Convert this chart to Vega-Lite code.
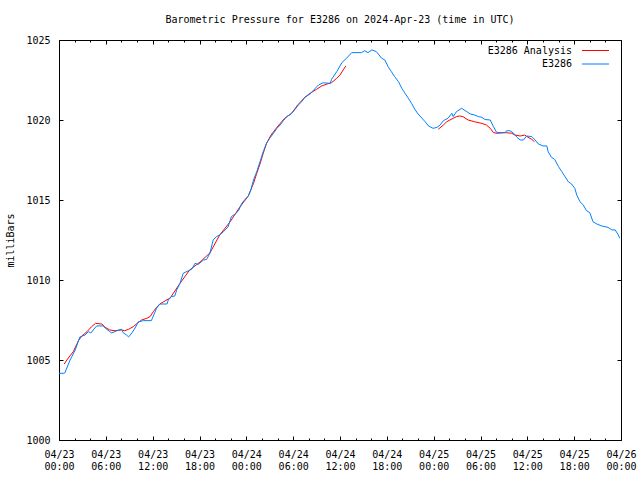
{
  "$schema": "https://vega.github.io/schema/vega-lite/v6.json",
  "width": 562,
  "height": 400,
  "autosize": {"type": "none"},
  "padding": {"left": 59, "top": 40, "right": 19, "bottom": 40},
  "background": "white",
  "title": {
    "text": "Barometric Pressure for E3286 on 2024-Apr-23 (time in UTC)",
    "anchor": "middle",
    "font": "DejaVu Sans Mono",
    "fontSize": 10,
    "fontWeight": "normal",
    "color": "black",
    "offset": 10
  },
  "datasets": {
    "ana": [
      {"t": "2024-04-23T00:40Z", "p": 1004.75, "seg": 1, "series": "E3286 Analysis"},
      {"t": "2024-04-23T01:10Z", "p": 1005.11, "seg": 1, "series": "E3286 Analysis"},
      {"t": "2024-04-23T01:50Z", "p": 1005.52, "seg": 1, "series": "E3286 Analysis"},
      {"t": "2024-04-23T02:30Z", "p": 1006.21, "seg": 1, "series": "E3286 Analysis"},
      {"t": "2024-04-23T02:55Z", "p": 1006.50, "seg": 1, "series": "E3286 Analysis"},
      {"t": "2024-04-23T03:35Z", "p": 1006.77, "seg": 1, "series": "E3286 Analysis"},
      {"t": "2024-04-23T04:10Z", "p": 1007.08, "seg": 1, "series": "E3286 Analysis"},
      {"t": "2024-04-23T04:40Z", "p": 1007.29, "seg": 1, "series": "E3286 Analysis"},
      {"t": "2024-04-23T05:30Z", "p": 1007.25, "seg": 1, "series": "E3286 Analysis"},
      {"t": "2024-04-23T05:55Z", "p": 1007.04, "seg": 1, "series": "E3286 Analysis"},
      {"t": "2024-04-23T06:30Z", "p": 1006.88, "seg": 1, "series": "E3286 Analysis"},
      {"t": "2024-04-23T07:10Z", "p": 1006.83, "seg": 1, "series": "E3286 Analysis"},
      {"t": "2024-04-23T08:00Z", "p": 1006.88, "seg": 1, "series": "E3286 Analysis"},
      {"t": "2024-04-23T08:25Z", "p": 1006.83, "seg": 1, "series": "E3286 Analysis"},
      {"t": "2024-04-23T08:55Z", "p": 1006.92, "seg": 1, "series": "E3286 Analysis"},
      {"t": "2024-04-23T09:30Z", "p": 1007.08, "seg": 1, "series": "E3286 Analysis"},
      {"t": "2024-04-23T09:55Z", "p": 1007.25, "seg": 1, "series": "E3286 Analysis"},
      {"t": "2024-04-23T10:35Z", "p": 1007.50, "seg": 1, "series": "E3286 Analysis"},
      {"t": "2024-04-23T11:15Z", "p": 1007.61, "seg": 1, "series": "E3286 Analysis"},
      {"t": "2024-04-23T11:40Z", "p": 1007.71, "seg": 1, "series": "E3286 Analysis"},
      {"t": "2024-04-23T12:05Z", "p": 1008.02, "seg": 1, "series": "E3286 Analysis"},
      {"t": "2024-04-23T12:30Z", "p": 1008.29, "seg": 1, "series": "E3286 Analysis"},
      {"t": "2024-04-23T12:55Z", "p": 1008.50, "seg": 1, "series": "E3286 Analysis"},
      {"t": "2024-04-23T14:15Z", "p": 1008.88, "seg": 1, "series": "E3286 Analysis"},
      {"t": "2024-04-23T15:30Z", "p": 1009.79, "seg": 1, "series": "E3286 Analysis"},
      {"t": "2024-04-23T16:45Z", "p": 1010.63, "seg": 1, "series": "E3286 Analysis"},
      {"t": "2024-04-23T18:05Z", "p": 1011.13, "seg": 1, "series": "E3286 Analysis"},
      {"t": "2024-04-23T19:20Z", "p": 1011.69, "seg": 1, "series": "E3286 Analysis"},
      {"t": "2024-04-23T20:35Z", "p": 1012.81, "seg": 1, "series": "E3286 Analysis"},
      {"t": "2024-04-23T21:55Z", "p": 1013.63, "seg": 1, "series": "E3286 Analysis"},
      {"t": "2024-04-23T23:10Z", "p": 1014.56, "seg": 1, "series": "E3286 Analysis"},
      {"t": "2024-04-24T00:15Z", "p": 1015.25, "seg": 1, "series": "E3286 Analysis"},
      {"t": "2024-04-24T00:55Z", "p": 1016.04, "seg": 1, "series": "E3286 Analysis"},
      {"t": "2024-04-24T01:20Z", "p": 1016.67, "seg": 1, "series": "E3286 Analysis"},
      {"t": "2024-04-24T01:45Z", "p": 1017.25, "seg": 1, "series": "E3286 Analysis"},
      {"t": "2024-04-24T02:10Z", "p": 1017.92, "seg": 1, "series": "E3286 Analysis"},
      {"t": "2024-04-24T02:35Z", "p": 1018.54, "seg": 1, "series": "E3286 Analysis"},
      {"t": "2024-04-24T03:10Z", "p": 1019.06, "seg": 1, "series": "E3286 Analysis"},
      {"t": "2024-04-24T03:40Z", "p": 1019.38, "seg": 1, "series": "E3286 Analysis"},
      {"t": "2024-04-24T04:10Z", "p": 1019.69, "seg": 1, "series": "E3286 Analysis"},
      {"t": "2024-04-24T04:55Z", "p": 1020.11, "seg": 1, "series": "E3286 Analysis"},
      {"t": "2024-04-24T05:20Z", "p": 1020.25, "seg": 1, "series": "E3286 Analysis"},
      {"t": "2024-04-24T05:50Z", "p": 1020.44, "seg": 1, "series": "E3286 Analysis"},
      {"t": "2024-04-24T06:35Z", "p": 1020.94, "seg": 1, "series": "E3286 Analysis"},
      {"t": "2024-04-24T07:30Z", "p": 1021.42, "seg": 1, "series": "E3286 Analysis"},
      {"t": "2024-04-24T08:10Z", "p": 1021.67, "seg": 1, "series": "E3286 Analysis"},
      {"t": "2024-04-24T09:00Z", "p": 1021.92, "seg": 1, "series": "E3286 Analysis"},
      {"t": "2024-04-24T09:40Z", "p": 1022.13, "seg": 1, "series": "E3286 Analysis"},
      {"t": "2024-04-24T10:20Z", "p": 1022.25, "seg": 1, "series": "E3286 Analysis"},
      {"t": "2024-04-24T10:55Z", "p": 1022.33, "seg": 1, "series": "E3286 Analysis"},
      {"t": "2024-04-24T11:35Z", "p": 1022.61, "seg": 1, "series": "E3286 Analysis"},
      {"t": "2024-04-24T12:00Z", "p": 1022.81, "seg": 1, "series": "E3286 Analysis"},
      {"t": "2024-04-24T12:25Z", "p": 1023.13, "seg": 1, "series": "E3286 Analysis"},
      {"t": "2024-04-24T12:45Z", "p": 1023.38, "seg": 1, "series": "E3286 Analysis"},
      {"t": "2024-04-25T00:35Z", "p": 1019.42, "seg": 2, "series": "E3286 Analysis"},
      {"t": "2024-04-25T01:15Z", "p": 1019.69, "seg": 2, "series": "E3286 Analysis"},
      {"t": "2024-04-25T01:40Z", "p": 1019.89, "seg": 2, "series": "E3286 Analysis"},
      {"t": "2024-04-25T02:05Z", "p": 1020.00, "seg": 2, "series": "E3286 Analysis"},
      {"t": "2024-04-25T02:55Z", "p": 1020.21, "seg": 2, "series": "E3286 Analysis"},
      {"t": "2024-04-25T03:20Z", "p": 1020.25, "seg": 2, "series": "E3286 Analysis"},
      {"t": "2024-04-25T03:45Z", "p": 1020.21, "seg": 2, "series": "E3286 Analysis"},
      {"t": "2024-04-25T04:25Z", "p": 1020.00, "seg": 2, "series": "E3286 Analysis"},
      {"t": "2024-04-25T05:15Z", "p": 1019.89, "seg": 2, "series": "E3286 Analysis"},
      {"t": "2024-04-25T06:10Z", "p": 1019.79, "seg": 2, "series": "E3286 Analysis"},
      {"t": "2024-04-25T06:45Z", "p": 1019.69, "seg": 2, "series": "E3286 Analysis"},
      {"t": "2024-04-25T07:15Z", "p": 1019.48, "seg": 2, "series": "E3286 Analysis"},
      {"t": "2024-04-25T07:40Z", "p": 1019.21, "seg": 2, "series": "E3286 Analysis"},
      {"t": "2024-04-25T08:05Z", "p": 1019.17, "seg": 2, "series": "E3286 Analysis"},
      {"t": "2024-04-25T09:10Z", "p": 1019.21, "seg": 2, "series": "E3286 Analysis"},
      {"t": "2024-04-25T10:00Z", "p": 1019.17, "seg": 2, "series": "E3286 Analysis"},
      {"t": "2024-04-25T10:25Z", "p": 1019.06, "seg": 2, "series": "E3286 Analysis"},
      {"t": "2024-04-25T11:05Z", "p": 1019.00, "seg": 2, "series": "E3286 Analysis"},
      {"t": "2024-04-25T11:40Z", "p": 1019.06, "seg": 2, "series": "E3286 Analysis"},
      {"t": "2024-04-25T12:05Z", "p": 1018.92, "seg": 2, "series": "E3286 Analysis"},
      {"t": "2024-04-25T12:35Z", "p": 1018.79, "seg": 2, "series": "E3286 Analysis"},
      {"t": "2024-04-25T12:55Z", "p": 1018.64, "seg": 2, "series": "E3286 Analysis"}
    ],
    "obs": [
      {"t": "2024-04-23T00:00Z", "p": 1004.17, "series": "E3286"},
      {"t": "2024-04-23T00:40Z", "p": 1004.17, "series": "E3286"},
      {"t": "2024-04-23T00:45Z", "p": 1004.19, "series": "E3286"},
      {"t": "2024-04-23T01:25Z", "p": 1005.00, "series": "E3286"},
      {"t": "2024-04-23T02:05Z", "p": 1005.63, "series": "E3286"},
      {"t": "2024-04-23T02:40Z", "p": 1006.44, "series": "E3286"},
      {"t": "2024-04-23T03:20Z", "p": 1006.56, "series": "E3286"},
      {"t": "2024-04-23T03:45Z", "p": 1006.77, "series": "E3286"},
      {"t": "2024-04-23T04:05Z", "p": 1006.69, "series": "E3286"},
      {"t": "2024-04-23T04:35Z", "p": 1007.00, "series": "E3286"},
      {"t": "2024-04-23T04:50Z", "p": 1007.13, "series": "E3286"},
      {"t": "2024-04-23T05:40Z", "p": 1007.13, "series": "E3286"},
      {"t": "2024-04-23T05:55Z", "p": 1007.00, "series": "E3286"},
      {"t": "2024-04-23T06:30Z", "p": 1006.77, "series": "E3286"},
      {"t": "2024-04-23T06:45Z", "p": 1006.69, "series": "E3286"},
      {"t": "2024-04-23T07:25Z", "p": 1006.83, "series": "E3286"},
      {"t": "2024-04-23T08:00Z", "p": 1006.92, "series": "E3286"},
      {"t": "2024-04-23T08:15Z", "p": 1006.69, "series": "E3286"},
      {"t": "2024-04-23T08:40Z", "p": 1006.56, "series": "E3286"},
      {"t": "2024-04-23T08:55Z", "p": 1006.44, "series": "E3286"},
      {"t": "2024-04-23T09:20Z", "p": 1006.69, "series": "E3286"},
      {"t": "2024-04-23T09:45Z", "p": 1007.00, "series": "E3286"},
      {"t": "2024-04-23T10:10Z", "p": 1007.39, "series": "E3286"},
      {"t": "2024-04-23T10:50Z", "p": 1007.46, "series": "E3286"},
      {"t": "2024-04-23T11:50Z", "p": 1007.46, "series": "E3286"},
      {"t": "2024-04-23T12:05Z", "p": 1007.75, "series": "E3286"},
      {"t": "2024-04-23T12:30Z", "p": 1008.23, "series": "E3286"},
      {"t": "2024-04-23T12:55Z", "p": 1008.50, "series": "E3286"},
      {"t": "2024-04-23T13:50Z", "p": 1008.50, "series": "E3286"},
      {"t": "2024-04-23T14:00Z", "p": 1008.75, "series": "E3286"},
      {"t": "2024-04-23T14:25Z", "p": 1008.96, "series": "E3286"},
      {"t": "2024-04-23T14:50Z", "p": 1009.00, "series": "E3286"},
      {"t": "2024-04-23T15:05Z", "p": 1009.38, "series": "E3286"},
      {"t": "2024-04-23T15:30Z", "p": 1009.79, "series": "E3286"},
      {"t": "2024-04-23T15:55Z", "p": 1010.42, "series": "E3286"},
      {"t": "2024-04-23T16:35Z", "p": 1010.58, "series": "E3286"},
      {"t": "2024-04-23T17:00Z", "p": 1010.67, "series": "E3286"},
      {"t": "2024-04-23T17:25Z", "p": 1011.04, "series": "E3286"},
      {"t": "2024-04-23T17:50Z", "p": 1010.97, "series": "E3286"},
      {"t": "2024-04-23T18:30Z", "p": 1011.25, "series": "E3286"},
      {"t": "2024-04-23T18:55Z", "p": 1011.29, "series": "E3286"},
      {"t": "2024-04-23T19:20Z", "p": 1011.67, "series": "E3286"},
      {"t": "2024-04-23T19:45Z", "p": 1012.50, "series": "E3286"},
      {"t": "2024-04-23T20:10Z", "p": 1012.71, "series": "E3286"},
      {"t": "2024-04-23T20:35Z", "p": 1012.81, "series": "E3286"},
      {"t": "2024-04-23T21:05Z", "p": 1013.02, "series": "E3286"},
      {"t": "2024-04-23T21:40Z", "p": 1013.33, "series": "E3286"},
      {"t": "2024-04-23T22:05Z", "p": 1013.96, "series": "E3286"},
      {"t": "2024-04-23T22:35Z", "p": 1014.13, "series": "E3286"},
      {"t": "2024-04-23T23:00Z", "p": 1014.33, "series": "E3286"},
      {"t": "2024-04-23T23:25Z", "p": 1014.79, "series": "E3286"},
      {"t": "2024-04-23T23:50Z", "p": 1015.04, "series": "E3286"},
      {"t": "2024-04-24T00:15Z", "p": 1015.25, "series": "E3286"},
      {"t": "2024-04-24T00:35Z", "p": 1015.63, "series": "E3286"},
      {"t": "2024-04-24T00:55Z", "p": 1016.25, "series": "E3286"},
      {"t": "2024-04-24T01:20Z", "p": 1016.77, "series": "E3286"},
      {"t": "2024-04-24T01:45Z", "p": 1017.39, "series": "E3286"},
      {"t": "2024-04-24T02:10Z", "p": 1018.02, "series": "E3286"},
      {"t": "2024-04-24T02:35Z", "p": 1018.54, "series": "E3286"},
      {"t": "2024-04-24T03:00Z", "p": 1018.86, "series": "E3286"},
      {"t": "2024-04-24T03:25Z", "p": 1019.13, "series": "E3286"},
      {"t": "2024-04-24T03:55Z", "p": 1019.48, "series": "E3286"},
      {"t": "2024-04-24T04:20Z", "p": 1019.69, "series": "E3286"},
      {"t": "2024-04-24T04:45Z", "p": 1019.96, "series": "E3286"},
      {"t": "2024-04-24T05:10Z", "p": 1020.21, "series": "E3286"},
      {"t": "2024-04-24T05:50Z", "p": 1020.42, "series": "E3286"},
      {"t": "2024-04-24T06:15Z", "p": 1020.67, "series": "E3286"},
      {"t": "2024-04-24T06:40Z", "p": 1020.94, "series": "E3286"},
      {"t": "2024-04-24T07:05Z", "p": 1021.14, "series": "E3286"},
      {"t": "2024-04-24T07:30Z", "p": 1021.42, "series": "E3286"},
      {"t": "2024-04-24T08:10Z", "p": 1021.63, "series": "E3286"},
      {"t": "2024-04-24T08:50Z", "p": 1021.98, "series": "E3286"},
      {"t": "2024-04-24T09:15Z", "p": 1022.19, "series": "E3286"},
      {"t": "2024-04-24T09:50Z", "p": 1022.33, "series": "E3286"},
      {"t": "2024-04-24T10:45Z", "p": 1022.29, "series": "E3286"},
      {"t": "2024-04-24T10:55Z", "p": 1022.54, "series": "E3286"},
      {"t": "2024-04-24T11:35Z", "p": 1023.02, "series": "E3286"},
      {"t": "2024-04-24T12:15Z", "p": 1023.59, "series": "E3286"},
      {"t": "2024-04-24T12:50Z", "p": 1023.86, "series": "E3286"},
      {"t": "2024-04-24T13:30Z", "p": 1024.21, "series": "E3286"},
      {"t": "2024-04-24T14:45Z", "p": 1024.21, "series": "E3286"},
      {"t": "2024-04-24T15:10Z", "p": 1024.33, "series": "E3286"},
      {"t": "2024-04-24T15:35Z", "p": 1024.21, "series": "E3286"},
      {"t": "2024-04-24T16:05Z", "p": 1024.38, "series": "E3286"},
      {"t": "2024-04-24T16:40Z", "p": 1024.27, "series": "E3286"},
      {"t": "2024-04-24T17:20Z", "p": 1023.86, "series": "E3286"},
      {"t": "2024-04-24T17:45Z", "p": 1023.75, "series": "E3286"},
      {"t": "2024-04-24T18:10Z", "p": 1023.33, "series": "E3286"},
      {"t": "2024-04-24T18:35Z", "p": 1023.02, "series": "E3286"},
      {"t": "2024-04-24T19:00Z", "p": 1022.71, "series": "E3286"},
      {"t": "2024-04-24T19:30Z", "p": 1022.39, "series": "E3286"},
      {"t": "2024-04-24T19:55Z", "p": 1021.98, "series": "E3286"},
      {"t": "2024-04-24T20:20Z", "p": 1021.67, "series": "E3286"},
      {"t": "2024-04-24T20:45Z", "p": 1021.36, "series": "E3286"},
      {"t": "2024-04-24T21:10Z", "p": 1021.04, "series": "E3286"},
      {"t": "2024-04-24T21:35Z", "p": 1020.67, "series": "E3286"},
      {"t": "2024-04-24T22:00Z", "p": 1020.38, "series": "E3286"},
      {"t": "2024-04-24T22:30Z", "p": 1020.11, "series": "E3286"},
      {"t": "2024-04-24T22:55Z", "p": 1019.89, "series": "E3286"},
      {"t": "2024-04-24T23:20Z", "p": 1019.63, "series": "E3286"},
      {"t": "2024-04-24T23:55Z", "p": 1019.48, "series": "E3286"},
      {"t": "2024-04-25T00:25Z", "p": 1019.54, "series": "E3286"},
      {"t": "2024-04-25T00:50Z", "p": 1019.69, "series": "E3286"},
      {"t": "2024-04-25T01:15Z", "p": 1019.96, "series": "E3286"},
      {"t": "2024-04-25T01:50Z", "p": 1020.11, "series": "E3286"},
      {"t": "2024-04-25T02:20Z", "p": 1020.42, "series": "E3286"},
      {"t": "2024-04-25T02:30Z", "p": 1020.21, "series": "E3286"},
      {"t": "2024-04-25T02:55Z", "p": 1020.52, "series": "E3286"},
      {"t": "2024-04-25T03:35Z", "p": 1020.73, "series": "E3286"},
      {"t": "2024-04-25T04:15Z", "p": 1020.52, "series": "E3286"},
      {"t": "2024-04-25T04:40Z", "p": 1020.38, "series": "E3286"},
      {"t": "2024-04-25T05:15Z", "p": 1020.31, "series": "E3286"},
      {"t": "2024-04-25T05:45Z", "p": 1020.21, "series": "E3286"},
      {"t": "2024-04-25T06:10Z", "p": 1020.17, "series": "E3286"},
      {"t": "2024-04-25T06:35Z", "p": 1020.03, "series": "E3286"},
      {"t": "2024-04-25T07:15Z", "p": 1020.00, "series": "E3286"},
      {"t": "2024-04-25T07:40Z", "p": 1019.58, "series": "E3286"},
      {"t": "2024-04-25T08:05Z", "p": 1019.21, "series": "E3286"},
      {"t": "2024-04-25T09:10Z", "p": 1019.21, "series": "E3286"},
      {"t": "2024-04-25T09:20Z", "p": 1019.33, "series": "E3286"},
      {"t": "2024-04-25T09:45Z", "p": 1019.33, "series": "E3286"},
      {"t": "2024-04-25T10:10Z", "p": 1019.21, "series": "E3286"},
      {"t": "2024-04-25T10:40Z", "p": 1018.92, "series": "E3286"},
      {"t": "2024-04-25T11:05Z", "p": 1018.75, "series": "E3286"},
      {"t": "2024-04-25T11:30Z", "p": 1018.75, "series": "E3286"},
      {"t": "2024-04-25T11:55Z", "p": 1019.00, "series": "E3286"},
      {"t": "2024-04-25T12:35Z", "p": 1018.96, "series": "E3286"},
      {"t": "2024-04-25T13:00Z", "p": 1018.75, "series": "E3286"},
      {"t": "2024-04-25T13:25Z", "p": 1018.50, "series": "E3286"},
      {"t": "2024-04-25T14:00Z", "p": 1018.38, "series": "E3286"},
      {"t": "2024-04-25T14:30Z", "p": 1018.38, "series": "E3286"},
      {"t": "2024-04-25T14:40Z", "p": 1018.02, "series": "E3286"},
      {"t": "2024-04-25T15:05Z", "p": 1017.67, "series": "E3286"},
      {"t": "2024-04-25T15:30Z", "p": 1017.54, "series": "E3286"},
      {"t": "2024-04-25T16:00Z", "p": 1017.08, "series": "E3286"},
      {"t": "2024-04-25T16:25Z", "p": 1016.77, "series": "E3286"},
      {"t": "2024-04-25T16:50Z", "p": 1016.46, "series": "E3286"},
      {"t": "2024-04-25T17:15Z", "p": 1016.14, "series": "E3286"},
      {"t": "2024-04-25T17:40Z", "p": 1016.00, "series": "E3286"},
      {"t": "2024-04-25T18:05Z", "p": 1015.73, "series": "E3286"},
      {"t": "2024-04-25T18:20Z", "p": 1015.31, "series": "E3286"},
      {"t": "2024-04-25T18:45Z", "p": 1014.89, "series": "E3286"},
      {"t": "2024-04-25T19:10Z", "p": 1014.69, "series": "E3286"},
      {"t": "2024-04-25T19:35Z", "p": 1014.33, "series": "E3286"},
      {"t": "2024-04-25T20:00Z", "p": 1014.21, "series": "E3286"},
      {"t": "2024-04-25T20:25Z", "p": 1013.64, "series": "E3286"},
      {"t": "2024-04-25T20:55Z", "p": 1013.50, "series": "E3286"},
      {"t": "2024-04-25T21:30Z", "p": 1013.38, "series": "E3286"},
      {"t": "2024-04-25T22:20Z", "p": 1013.29, "series": "E3286"},
      {"t": "2024-04-25T22:50Z", "p": 1013.13, "series": "E3286"},
      {"t": "2024-04-25T23:15Z", "p": 1013.13, "series": "E3286"},
      {"t": "2024-04-25T23:40Z", "p": 1012.81, "series": "E3286"},
      {"t": "2024-04-25T23:50Z", "p": 1012.61, "series": "E3286"}
    ]
  },
  "layer": [
    {
      "data": {"name": "ana"},
      "mark": {"type": "line", "strokeWidth": 1},
      "encoding": {
        "x": {
          "field": "t", "type": "temporal",
          "scale": {"type": "utc", "domain": [{"year": 2024, "month": 4, "date": 23, "utc": true}, {"year": 2024, "month": 4, "date": 26, "utc": true}], "nice": false},
          "axis": {
            "orient": "bottom", "title": null,
            "values": [1713830400000, 1713837600000, 1713844800000, 1713852000000, 1713859200000, 1713866400000, 1713873600000, 1713880800000, 1713888000000, 1713895200000, 1713902400000, 1713909600000, 1713916800000, 1713924000000, 1713931200000, 1713938400000, 1713945600000, 1713952800000, 1713960000000, 1713967200000, 1713974400000, 1713981600000, 1713988800000, 1713996000000, 1714003200000, 1714010400000, 1714017600000, 1714024800000, 1714032000000, 1714039200000, 1714046400000, 1714053600000, 1714060800000, 1714068000000, 1714075200000, 1714082400000, 1714089600000],
            "labelExpr": "utchours(datum.value) % 6 === 0 ? [utcFormat(datum.value, '%m/%d'), utcFormat(datum.value, '%H:%M')] : ''",
            "labelFlush": false, "labelOverlap": false, "labelLineHeight": 12,
            "ticks": false, "tickSize": 0,
            "grid": true, "gridColor": "black", "gridOpacity": 1, "gridWidth": 1,
            "gridDash": {"condition": {"test": "utchours(datum.value) % 6 === 0", "value": [4, 392, 4, 2000]}, "value": [2, 396, 2, 2000]},
            "labelPadding": 9
          }
        },
        "y": {
          "field": "p", "type": "quantitative",
          "scale": {"domain": [1000, 1025], "nice": false, "zero": false},
          "axis": {
            "orient": "left", "title": "milliBars",
            "values": [1000, 1005, 1010, 1015, 1020, 1025], "format": "d",
            "ticks": false, "tickSize": 0,
            "grid": true, "gridColor": "black", "gridOpacity": 1, "gridWidth": 1, "gridDash": [4, 554, 4, 2000],
            "labelPadding": 9, "titlePadding": 10
          }
        },
        "color": {
          "field": "series", "type": "nominal",
          "scale": {"domain": ["E3286 Analysis", "E3286"], "range": ["#ff0000", "#0080ff"]},
          "legend": {
            "title": null, "orient": "none", "legendX": 531, "legendY": 5,
            "symbolType": "M-2.7,0H2.7", "symbolSize": 100, "symbolStrokeWidth": 1,
            "labelAlign": "right", "labelOffset": -29,
            "rowPadding": 2.5, "padding": 0
          }
        },
        "detail": {"field": "seg", "type": "nominal"}
      }
    },
    {
      "data": {"name": "obs"},
      "mark": {"type": "line", "strokeWidth": 1},
      "encoding": {
        "x": {"field": "t", "type": "temporal", "axis": null},
        "y": {"field": "p", "type": "quantitative", "axis": null},
        "color": {"field": "series", "type": "nominal"}
      }
    }
  ],
  "resolve": {"axis": {"x": "independent", "y": "independent"}},
  "config": {
    "font": "DejaVu Sans Mono",
    "view": {"stroke": "black", "strokeWidth": 1},
    "axis": {
      "domainColor": "black", "tickColor": "black", "tickWidth": 1,
      "labelColor": "black", "labelFont": "DejaVu Sans Mono", "labelFontSize": 10,
      "titleColor": "black", "titleFont": "DejaVu Sans Mono", "titleFontSize": 10, "titleFontWeight": "normal"
    },
    "legend": {
      "labelFont": "DejaVu Sans Mono", "labelFontSize": 10, "labelColor": "black"
    }
  }
}
